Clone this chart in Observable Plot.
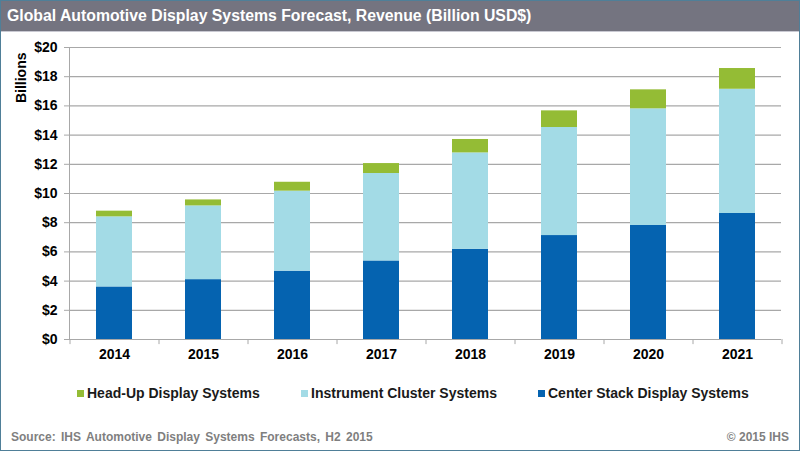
<!DOCTYPE html>
<html>
<head>
<meta charset="utf-8">
<script src="https://cdn.jsdelivr.net/npm/d3@7"></script>
<script src="https://cdn.jsdelivr.net/npm/@observablehq/plot@0.6"></script>
<style>
  html, body { margin: 0; padding: 0; background: #fff; }
  #wrap { position: relative; width: 800px; height: 451px; overflow: hidden; font-family: "Liberation Sans", Arial, sans-serif; }
  #border { position: absolute; left: 0; top: 0; width: 800px; height: 451px; box-sizing: border-box; border: 1.5px solid #4f7f98; pointer-events: none; z-index: 5; }
  #title { position: absolute; left: 0; top: 0; width: 800px; height: 32px; background: #747480; border-bottom: 1px solid #c9c9d2; box-sizing: border-box; color: #fff; font-weight: bold; font-size: 15.8px; line-height: 32px; padding-left: 7px; }
  #chart { position: absolute; left: 0; top: 32px; }
  #legend { position: absolute; top: 384px; left: 0; width: 800px; height: 18px; font-weight: bold; font-size: 14px; color: #1a1a1a; }
  .item { position: absolute; top: 0; line-height: 18px; white-space: nowrap; }
  .sw { display: inline-block; width: 7px; height: 7px; margin-right: 3px; vertical-align: 1px; }
  #source { position: absolute; left: 11px; top: 430px; font-size: 12px; font-weight: bold; color: #7f7f7f; word-spacing: 2px; }
  #copy { position: absolute; right: 11px; top: 430px; font-size: 12px; font-weight: bold; color: #7f7f7f; }
</style>
</head>
<body>
<div id="wrap">
  <div id="title">Global Automotive Display Systems Forecast, Revenue (Billion USD$)</div>
  <div id="chart"></div>
  <div id="legend"></div>
  <div id="source">Source: IHS Automotive Display Systems Forecasts, H2 2015</div>
  <div id="copy">© 2015 IHS</div>
  <div id="border"></div>
</div>
<script>
const years = ["2014", "2015", "2016", "2017", "2018", "2019", "2020", "2021"];
const centerStack = [3.6, 4.1, 4.68, 5.38, 6.18, 7.12, 7.81, 8.63];
const instrumentCluster = [4.8, 5.05, 5.48, 5.99, 6.6, 7.4, 7.99, 8.51];
const headUp = [0.39, 0.41, 0.61, 0.68, 0.92, 1.14, 1.3, 1.42];
const seriesNames = ["Center Stack Display Systems", "Instrument Cluster Systems", "Head-Up Display Systems"];
const seriesColors = ["#0563b0", "#a3dbe6", "#94bc35"];
const yTicks = [0, 2, 4, 6, 8, 10, 12, 14, 16, 18, 20];
const legendOrder = ["Head-Up Display Systems", "Instrument Cluster Systems", "Center Stack Display Systems"];
const legendLeft = [77, 301, 538];

const seriesValues = [centerStack, instrumentCluster, headUp];
const data = [];
seriesNames.forEach((s, si) => years.forEach((y, i) => data.push({year: y, series: s, value: seriesValues[si][i]})));

const step = 712 / years.length;

const chart = Plot.plot({
  width: 800,
  height: 345,
  marginTop: 15,
  marginBottom: 38,
  marginLeft: 69,
  marginRight: 19,
  style: {fontFamily: "'Liberation Sans', Arial, sans-serif", fontSize: "14px", fontWeight: "bold", color: "#000", background: "transparent"},
  x: {domain: years, paddingInner: 0.6, paddingOuter: 0.3, axis: null, label: null},
  y: {domain: [0, 20], axis: null, label: null},
  color: {domain: seriesNames, range: seriesColors},
  marks: [
    Plot.gridY(yTicks, {stroke: "#a8a8a8", strokeOpacity: 1, strokeWidth: 1.2}),
    Plot.axisY(yTicks, {label: null, tickFormat: d => "$" + d, tickSize: 5, tickPadding: 7, stroke: "#a8a8a8", fill: "#000", fontSize: 14, fontWeight: "bold"}),
    Plot.barY(data, {x: "year", y: "value", fill: "series", order: seriesNames}),
    Plot.ruleX(years, {x: d => d, y1: 0, y2: -0.35, dx: -step / 2, stroke: "#a8a8a8"}),
    Plot.ruleX([years[years.length - 1]], {x: d => d, y1: 0, y2: -0.35, dx: step / 2, stroke: "#a8a8a8"}),
    Plot.ruleY([0], {stroke: "#a8a8a8", strokeWidth: 1.2}),
    Plot.frame({anchor: "left", stroke: "#a8a8a8"}),
    Plot.axisX({label: null, tickSize: 0, tickPadding: 10, fontSize: 14, fontWeight: "bold", fill: "#000"}),
    Plot.text(["Billions"], {frameAnchor: "top-left", dx: -48, dy: 5, rotate: -90, textAnchor: "end", lineAnchor: "middle", fontSize: 14, fontWeight: "bold", fill: "#000"})
  ]
});
document.getElementById("chart").appendChild(chart);

const legend = document.getElementById("legend");
legendOrder.forEach((name, i) => {
  const el = document.createElement("div");
  el.className = "item";
  el.style.left = legendLeft[i] + "px";
  const sw = document.createElement("span");
  sw.className = "sw";
  sw.style.background = seriesColors[seriesNames.indexOf(name)];
  el.appendChild(sw);
  el.appendChild(document.createTextNode(name));
  legend.appendChild(el);
});
</script>
</body>
</html>
